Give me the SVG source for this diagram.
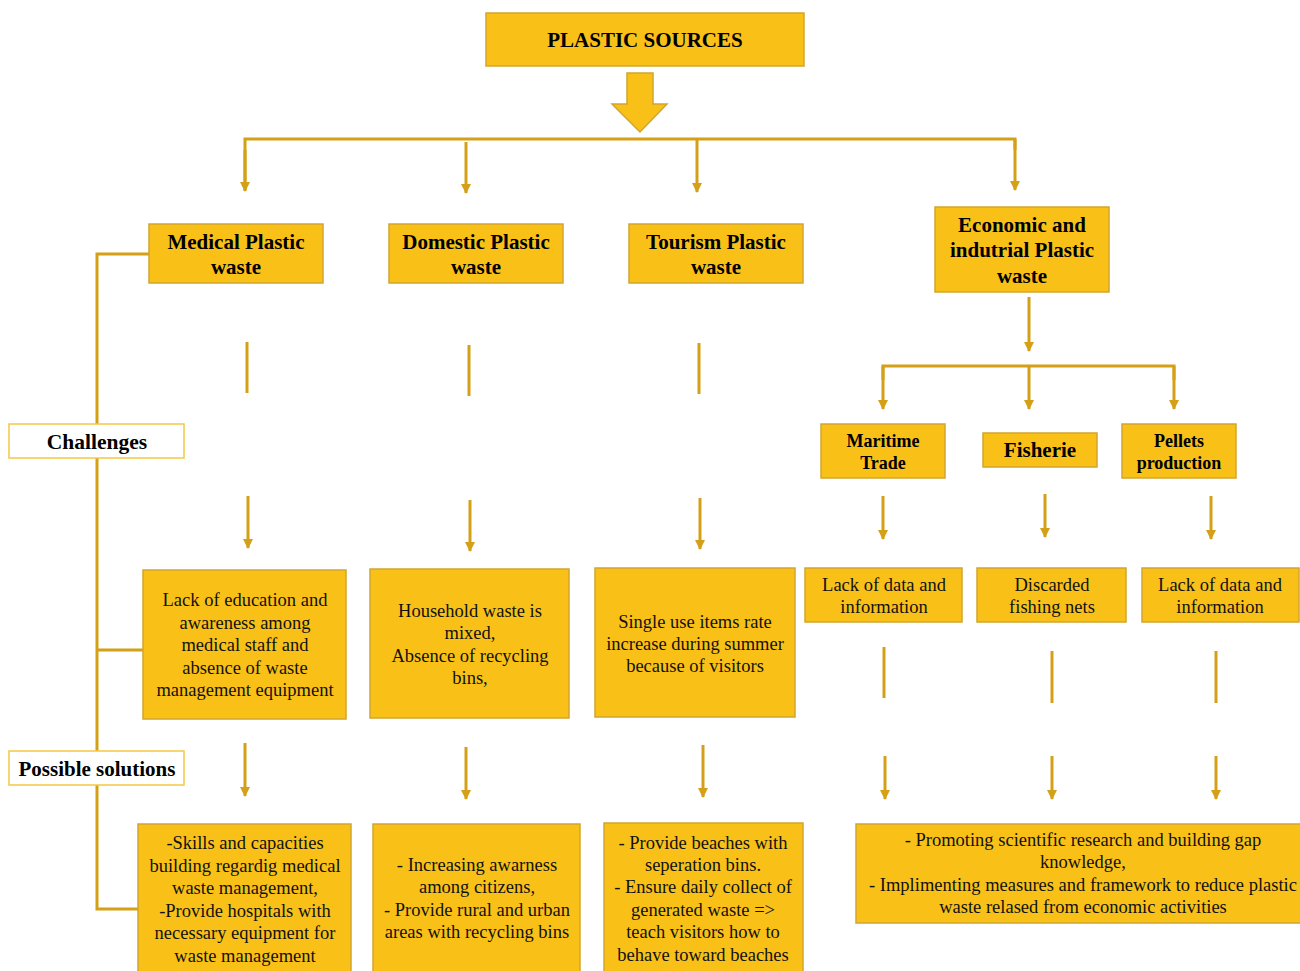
<svg xmlns="http://www.w3.org/2000/svg" width="1300" height="971" viewBox="0 0 1300 971">
<defs>
<marker id="arr" markerWidth="10" markerHeight="10" refX="9" refY="5" orient="auto" markerUnits="userSpaceOnUse" viewBox="0 0 10 10">
<path d="M0,0 L10,5 L0,10 Z" fill="#D4A017"/>
</marker>
<style>
.box{fill:#F9C118;stroke:#D2A52C;stroke-width:1.5}
.wbox{fill:#FFFFFF;stroke:#F5C842;stroke-width:1.5}
.ln{stroke:#D4A017;stroke-width:3;fill:none}
.ar{stroke:#D4A017;stroke-width:3;fill:none;marker-end:url(#arr)}
.t{font-family:'Liberation Serif',serif;font-size:18.5px;fill:#111;text-anchor:middle}
.b{font-family:'Liberation Serif',serif;font-weight:bold;fill:#000;text-anchor:middle}
</style>
</defs>
<rect width="1300" height="971" fill="#FFFFFF"/>

<g id="connectors">
<polygon points="627,73 653,73 653,104 667,104 640,132 612,104 627,104" fill="#F9C118" stroke="#D2A52C" stroke-width="1.5"/>
<path class="ln" d="M245,190 L245,139 L1015,139 L1015,150"/>
<path class="ar" d="M245,150 L245,191"/>
<path class="ar" d="M466,142 L466,193"/>
<path class="ar" d="M697,139 L697,192"/>
<path class="ar" d="M1015,139 L1015,190"/>
<path class="ln" d="M149,254 L97,254 L97,424"/>
<path class="ln" d="M97,458 L97,751"/>
<path class="ln" d="M97,650 L143,650"/>
<path class="ln" d="M97,785 L97,909 L138,909"/>
<path class="ln" d="M247,342 L247,393"/>
<path class="ln" d="M469,345 L469,396"/>
<path class="ln" d="M699,343 L699,394"/>
<path class="ar" d="M248,496 L248,548"/>
<path class="ar" d="M470,500 L470,551"/>
<path class="ar" d="M700,498 L700,549"/>
<path class="ar" d="M1029,297 L1029,351"/>
<path class="ln" d="M883,380 L883,366 L1174,366 L1174,380"/>
<path class="ar" d="M883,366 L883,409"/>
<path class="ar" d="M1029,366 L1029,409"/>
<path class="ar" d="M1174,366 L1174,409"/>
<path class="ar" d="M883,496 L883,539"/>
<path class="ar" d="M1045,494 L1045,537"/>
<path class="ar" d="M1211,496 L1211,539"/>
<path class="ln" d="M884,647 L884,698"/>
<path class="ln" d="M1052,651 L1052,703"/>
<path class="ln" d="M1216,651 L1216,703"/>
<path class="ar" d="M245,743 L245,796"/>
<path class="ar" d="M466,747 L466,799"/>
<path class="ar" d="M703,745 L703,797"/>
<path class="ar" d="M885,756 L885,799"/>
<path class="ar" d="M1052,756 L1052,799"/>
<path class="ar" d="M1216,756 L1216,799"/>
</g>

<g id="plastic-sources">
<rect class="box" x="486" y="13" width="318" height="53"/>
<text class="b" x="645" y="47" font-size="21">PLASTIC SOURCES</text>
</g>

<g id="medical">
<rect class="box" x="149" y="224" width="174" height="59"/>
<text class="b" x="236" y="249" font-size="21">Medical Plastic</text>
<text class="b" x="236" y="274" font-size="21">waste</text>
</g>
<g id="domestic">
<rect class="box" x="389" y="224" width="174" height="59"/>
<text class="b" x="476" y="249" font-size="21">Domestic Plastic</text>
<text class="b" x="476" y="274" font-size="21">waste</text>
</g>
<g id="tourism">
<rect class="box" x="629" y="224" width="174" height="59"/>
<text class="b" x="716" y="249" font-size="21">Tourism Plastic</text>
<text class="b" x="716" y="274" font-size="21">waste</text>
</g>
<g id="economic">
<rect class="box" x="935" y="207" width="174" height="85"/>
<text class="b" x="1022" y="232" font-size="21">Economic and</text>
<text class="b" x="1022" y="257" font-size="21">indutrial Plastic</text>
<text class="b" x="1022" y="283" font-size="21">waste</text>
</g>

<g id="challenges">
<rect class="wbox" x="9" y="424" width="175" height="34"/>
<text class="b" x="97" y="449" font-size="21.5">Challenges</text>
</g>
<g id="possible-solutions">
<rect class="wbox" x="9" y="751" width="175" height="34"/>
<text class="b" x="97" y="776" font-size="21">Possible solutions</text>
</g>

<g id="maritime">
<rect class="box" x="821" y="424" width="124" height="54"/>
<text class="b" x="883" y="447" font-size="18">Maritime</text>
<text class="b" x="883" y="469" font-size="18">Trade</text>
</g>
<g id="fisherie">
<rect class="box" x="983" y="433" width="114" height="34"/>
<text class="b" x="1040" y="457" font-size="21">Fisherie</text>
</g>
<g id="pellets">
<rect class="box" x="1122" y="424" width="114" height="54"/>
<text class="b" x="1179" y="447" font-size="18">Pellets</text>
<text class="b" x="1179" y="469" font-size="18">production</text>
</g>

<g id="medical-challenge">
<rect class="box" x="143" y="570" width="203" height="149"/>
<text class="t" x="245" y="606">Lack of education and</text>
<text class="t" x="245" y="629">awareness among</text>
<text class="t" x="245" y="651">medical staff and</text>
<text class="t" x="245" y="674">absence of waste</text>
<text class="t" x="245" y="696">management equipment</text>
</g>
<g id="domestic-challenge">
<rect class="box" x="370" y="569" width="199" height="149"/>
<text class="t" x="470" y="617">Household waste is</text>
<text class="t" x="470" y="639">mixed,</text>
<text class="t" x="470" y="662">Absence of recycling</text>
<text class="t" x="470" y="684">bins,</text>
</g>
<g id="tourism-challenge">
<rect class="box" x="595" y="568" width="200" height="149"/>
<text class="t" x="695" y="628">Single use items rate</text>
<text class="t" x="695" y="650">increase during summer</text>
<text class="t" x="695" y="672">because of visitors</text>
</g>
<g id="maritime-challenge">
<rect class="box" x="805" y="568" width="157" height="54"/>
<text class="t" x="884" y="591">Lack of data and</text>
<text class="t" x="884" y="613">information</text>
</g>
<g id="fisherie-challenge">
<rect class="box" x="977" y="568" width="149" height="54"/>
<text class="t" x="1052" y="591">Discarded</text>
<text class="t" x="1052" y="613">fishing nets</text>
</g>
<g id="pellets-challenge">
<rect class="box" x="1142" y="568" width="157" height="54"/>
<text class="t" x="1220" y="591">Lack of data and</text>
<text class="t" x="1220" y="613">information</text>
</g>

<g id="medical-solution">
<rect class="box" x="138" y="824" width="213" height="160"/>
<text class="t" x="245" y="849">-Skills and capacities</text>
<text class="t" x="245" y="872">building regardig medical</text>
<text class="t" x="245" y="894">waste management,</text>
<text class="t" x="245" y="917">-Provide hospitals with</text>
<text class="t" x="245" y="939">necessary equipment for</text>
<text class="t" x="245" y="962">waste management</text>
</g>
<g id="domestic-solution">
<rect class="box" x="373" y="824" width="207" height="160"/>
<text class="t" x="477" y="871">- Increasing awarness</text>
<text class="t" x="477" y="893">among citizens,</text>
<text class="t" x="477" y="916">- Provide rural and urban</text>
<text class="t" x="477" y="938">areas with recycling bins</text>
</g>
<g id="tourism-solution">
<rect class="box" x="604" y="823" width="199" height="160"/>
<text class="t" x="703" y="849">- Provide beaches with</text>
<text class="t" x="703" y="871">seperation bins.</text>
<text class="t" x="703" y="893">- Ensure daily collect of</text>
<text class="t" x="703" y="916">generated waste =&gt;</text>
<text class="t" x="703" y="938">teach visitors how to</text>
<text class="t" x="703" y="961">behave toward beaches</text>
</g>
<g id="economic-solution">
<rect class="box" x="856" y="824" width="450" height="99"/>
<text class="t" x="1083" y="846">- Promoting scientific research and building gap</text>
<text class="t" x="1083" y="868">knowledge,</text>
<text class="t" x="1083" y="891">- Implimenting measures and framework to reduce plastic</text>
<text class="t" x="1083" y="913">waste relased from economic activities</text>
</g>
</svg>
